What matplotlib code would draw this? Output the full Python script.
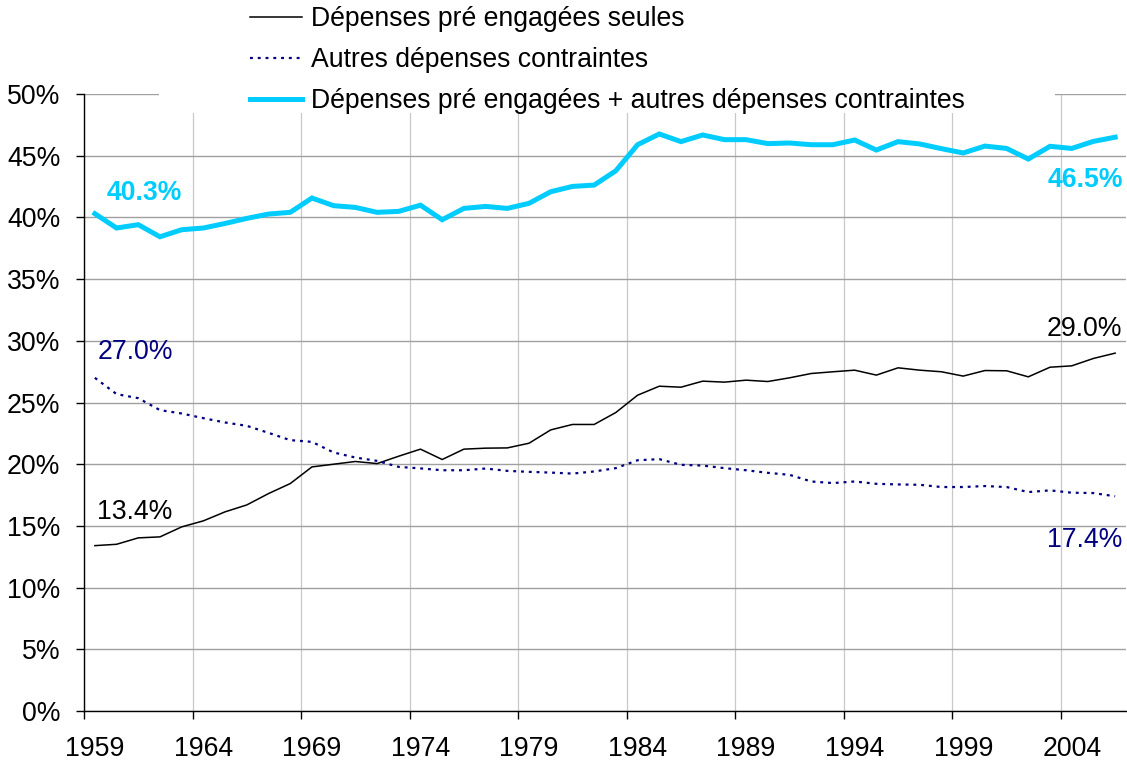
import matplotlib
matplotlib.use("Agg")
import matplotlib.pyplot as plt
from matplotlib.patches import Rectangle
from matplotlib.ticker import FixedLocator, FuncFormatter

plt.rcParams['font.family'] = ['Liberation Sans', 'DejaVu Sans']

years = list(range(1959, 2007))

pre_engagees = [13.4, 13.51, 14.03, 14.11, 14.92, 15.41, 16.14, 16.70, 17.62, 18.43,
                19.78, 20.0, 20.22, 20.05, 20.65, 21.22, 20.38, 21.22, 21.3, 21.32,
                21.70, 22.78, 23.22, 23.22, 24.19, 25.59, 26.32, 26.24, 26.73, 26.65,
                26.81, 26.70, 27.0, 27.35, 27.49, 27.62, 27.22, 27.81, 27.62, 27.49,
                27.14, 27.59, 27.57, 27.08, 27.86, 27.97, 28.57, 29.0]

autres = [27.0, 25.68, 25.35, 24.38, 24.11, 23.73, 23.38, 23.11, 22.54, 21.95,
          21.81, 20.95, 20.54, 20.27, 19.78, 19.66, 19.51, 19.51, 19.65, 19.46,
          19.38, 19.32, 19.24, 19.41, 19.68, 20.32, 20.41, 19.95, 19.89, 19.68,
          19.51, 19.30, 19.14, 18.6, 18.47, 18.6, 18.41, 18.36, 18.33, 18.15,
          18.15, 18.23, 18.15, 17.74, 17.88, 17.69, 17.66, 17.4]

total = [40.3, 39.14, 39.41, 38.43, 39.0, 39.14, 39.51, 39.92, 40.27, 40.41,
         41.57, 40.95, 40.81, 40.41, 40.49, 40.99, 39.81, 40.73, 40.89, 40.73,
         41.14, 42.08, 42.51, 42.62, 43.78, 45.89, 46.76, 46.14, 46.68, 46.3,
         46.3, 45.98, 46.03, 45.89, 45.89, 46.27, 45.46, 46.14, 45.95, 45.57,
         45.22, 45.78, 45.59, 44.73, 45.76, 45.59, 46.16, 46.5]

labels = ["Dépenses pré engagées seules",
          "Autres dépenses contraintes",
          "Dépenses pré engagées + autres dépenses contraintes"]

tick_years = list(range(1959, 2005, 5))
y_ticks = list(range(0, 51, 5))

C_BLACK = "#000000"
C_NAVY = "#000080"
C_CYAN = "#00CCFF"
FS = 19.2

W, H = 1127, 764
fig = plt.figure(figsize=(W / 100, H / 100), dpi=100)
ax = fig.add_axes([84 / W, 1 - 711 / H, (1126 - 84) / W, (711 - 94) / H])

l1, = ax.plot(years, pre_engagees, color=C_BLACK, lw=1.1, zorder=4)
l2, = ax.plot(years, autres, color=C_NAVY, lw=1.6, linestyle=(0, (1.3, 2.2)), zorder=4)
l3, = ax.plot(years, total, color=C_CYAN, lw=3.6, zorder=5, solid_joinstyle='miter')

ax.set_xlim(years[0] - 0.5, years[-1] + 0.5)
ax.set_ylim(0, 50)

# category boundaries (ticks + grid) and centered labels
bounds = [y - 0.5 for y in tick_years]
ax.xaxis.set_major_locator(FixedLocator(bounds))
ax.xaxis.set_major_formatter(FuncFormatter(lambda v, p: ""))
ax.xaxis.set_minor_locator(FixedLocator(tick_years))
ax.xaxis.set_minor_formatter(FuncFormatter(lambda v, p: f"{int(round(v))}"))
ax.tick_params(axis='x', which='major', direction='out', length=6, width=1, color='black')
ax.tick_params(axis='x', which='minor', length=0, pad=18, labelsize=FS)

ax.yaxis.set_major_locator(FixedLocator(y_ticks))
ax.yaxis.set_major_formatter(FuncFormatter(lambda v, p: f"{int(v)}%"))
ax.tick_params(axis='y', direction='out', length=6, width=1, pad=11, labelsize=FS)

ax.grid(axis='x', which='major', color='#c8c8c8', lw=0.9, zorder=0)
ax.grid(axis='y', which='major', color='#a0a0a0', lw=1.0, zorder=0)
ax.set_axisbelow(True)

for s in ['top', 'right']:
    ax.spines[s].set_visible(False)
for s in ['left', 'bottom']:
    ax.spines[s].set_linewidth(1.0)
    ax.spines[s].set_color('black')

# end labels
def lab(x, y, dx, dy, color, bold=False):
    ax.annotate(f"{y:.1f}%", xy=(x, y), xytext=(dx, dy), textcoords='offset pixels',
                ha='center', va='center', fontsize=FS, color=color,
                fontweight='bold' if bold else 'normal', zorder=6)

lab(years[0], total[0], 49, 21, C_CYAN, True)
lab(years[-1], total[-1], -30, -43, C_CYAN, True)
lab(years[0], autres[0], 41, 26, C_NAVY)
lab(years[-1], autres[-1], -30, -44, C_NAVY)
lab(years[0], pre_engagees[0], 40, 34, C_BLACK)
lab(years[-1], pre_engagees[-1], -31, 24, C_BLACK)

# legend area (white box, as in the original)
fig.patches.append(Rectangle((159 / W, 1 - 113 / H), (1055 - 159) / W, 113 / H,
                             transform=fig.transFigure, facecolor='white',
                             edgecolor='none', zorder=2))
leg = fig.legend([l1, l2, l3], labels, loc='upper left',
                 bbox_to_anchor=(250 / W, 1 - 6 / H), frameon=False,
                 fontsize=FS, handlelength=1.95, handletextpad=0.33,
                 labelspacing=0.57, borderpad=0, borderaxespad=0)
leg.set_zorder(3)

fig.savefig("out.png", dpi=100)
